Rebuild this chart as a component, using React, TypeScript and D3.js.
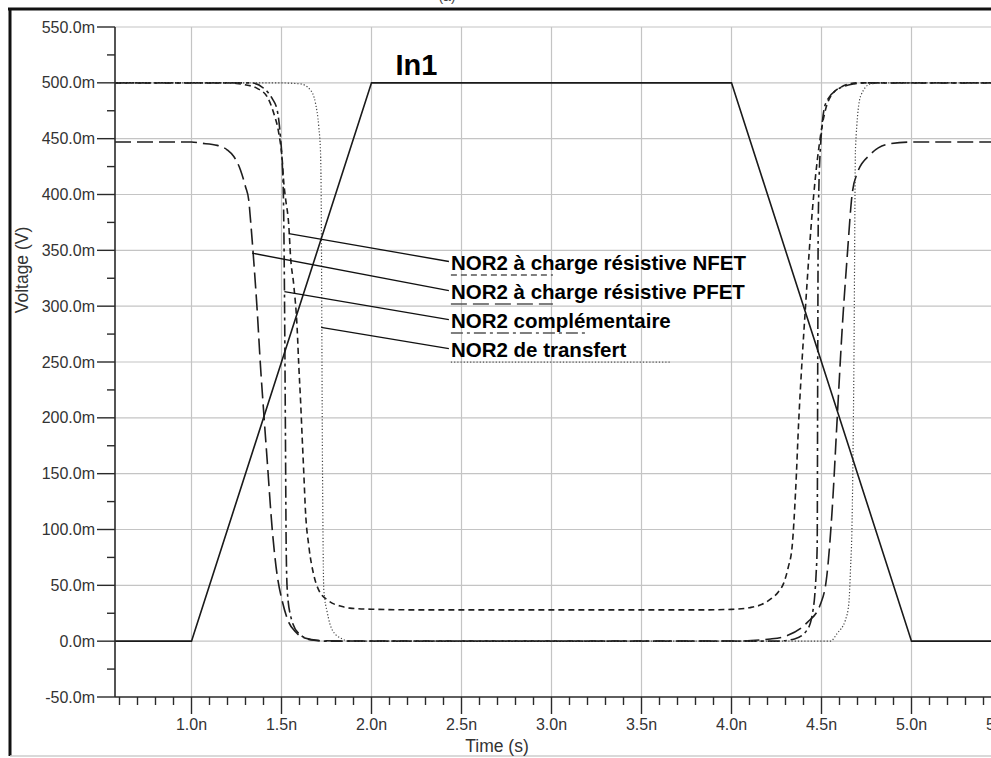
import React from 'react';
import * as d3 from 'd3';

// ---- Axis ticks ----
const Y_TICKS = [-50, 0, 50, 100, 150, 200, 250, 300, 350, 400, 450, 500, 550]; // mV
const X_TICKS = [1.0, 1.5, 2.0, 2.5, 3.0, 3.5, 4.0, 4.5, 5.0, 5.5]; // ns

// ---- Series (time in ns, voltage in mV) ----
const IN1_T = [0.575, 1.0, 2.0, 4.0, 5.0, 5.65];
const IN1_V = [0, 0, 500, 500, 0, 0];

const NFET_T = [0.575, 1.2, 1.25, 1.29, 1.365, 1.42, 1.457, 1.485, 1.504, 1.513, 1.522, 1.541, 1.55, 1.568, 1.587, 1.596, 1.606, 1.615, 1.624, 1.633, 1.652, 1.68, 1.707, 1.763, 1.837, 1.88, 2.0, 2.3, 3.8, 4.0, 4.1, 4.17, 4.22, 4.26, 4.29, 4.315, 4.337, 4.356, 4.374, 4.393, 4.411, 4.43, 4.457, 4.494, 4.54, 4.606, 4.698, 5.65];
const NFET_V = [500, 500, 499.5, 498.5, 495, 487.6, 472.7, 454.8, 431, 410, 397, 371, 345, 319, 280, 247, 215, 182, 150, 117, 85, 58.8, 45.7, 36, 31, 29.6, 28.6, 28, 28, 28.5, 30, 33, 38, 44, 52, 66, 85, 134, 199, 254, 299, 345, 400, 452, 484.5, 496, 500, 500];

const PFET_T = [0.575, 1.0, 1.05, 1.143, 1.198, 1.235, 1.272, 1.3, 1.318, 1.328, 1.346, 1.365, 1.383, 1.402, 1.42, 1.448, 1.476, 1.504, 1.541, 1.58, 1.615, 1.726, 2.0, 4.0, 4.217, 4.31, 4.42, 4.494, 4.53, 4.559, 4.587, 4.615, 4.643, 4.67, 4.698, 4.772, 4.883, 5.0, 5.65];
const PFET_V = [447, 447, 446, 444, 440, 434, 422, 407, 395, 377, 340, 296, 247, 203, 163, 101, 59, 36, 16.6, 8, 3.6, 0.5, 0, 0, 2, 5, 16.6, 33, 59, 117, 199, 280, 345, 400, 419, 436, 445.5, 447, 447];

const COMP_T = [0.575, 1.33, 1.402, 1.448, 1.476, 1.494, 1.505, 1.511, 1.515, 1.518, 1.522, 1.526, 1.532, 1.55, 1.596, 1.67, 1.75, 4.25, 4.35, 4.42, 4.45, 4.462, 4.47, 4.476, 4.479, 4.482, 4.494, 4.522, 4.587, 4.68, 4.75, 5.65];
const COMP_V = [500, 500, 495, 486, 475.6, 451.7, 425, 395, 340, 280, 182, 85, 45.7, 23, 6.8, 1, 0, 0, 2, 10, 25, 40, 60, 85, 247, 377, 442, 481, 494, 499, 500, 500];

const TRANS_T = [0.575, 1.476, 1.606, 1.661, 1.689, 1.707, 1.717, 1.72, 1.728, 1.735, 1.754, 1.782, 1.837, 1.88, 4.55, 4.587, 4.633, 4.652, 4.661, 4.67, 4.68, 4.689, 4.717, 4.772, 4.85, 5.65];
const TRANS_V = [500, 500, 499, 493.5, 481.6, 460.7, 437, 407, 150, 45.7, 26, 10, 2, 0, 0, 7, 19, 34, 64, 108, 247, 442, 488, 499, 500, 500];

// ---- Annotations ----
const LABELS = ['NOR2 à charge résistive NFET', 'NOR2 à charge résistive PFET', 'NOR2 complémentaire', 'NOR2 de transfert'];
const LEADER_T = [1.541, 1.337, 1.516, 1.72];
const LEADER_V = [365, 347.5, 313, 281];
const LABEL_T = 2.43;
const LABEL_V = [340, 314, 288, 262];
const IN1_LABEL = 'In1';
const IN1_LABEL_T = 2.133;
const IN1_LABEL_V = 507;

const STYLES = [
  { dash: '6,4', width: 1.6, color: '#1e1e1e', sample: 102 },
  { dash: '16,6', width: 1.6, color: '#1e1e1e', sample: 102 },
  { dash: '12,4,3,4', width: 1.6, color: '#1e1e1e', sample: 137 },
  { dash: '1.2,2', width: 1.2, color: '#444', sample: 220 },
];

export default function App() {
  const W = 991, H = 758;
  const x = d3.scaleLinear().domain([0.575, 5.65]).range([115, 115 + 5.075 * 180]);
  const y = d3.scaleLinear().domain([-50, 550]).range([697, 27]);
  const smooth = d3.line<[number, number]>().x(d => x(d[0])).y(d => y(d[1])).curve(d3.curveMonotoneX);
  const straight = d3.line<[number, number]>().x(d => x(d[0])).y(d => y(d[1])).curve(d3.curveLinear);
  const pts = (t: number[], v: number[]) => t.map((tt, i) => [tt, v[i]] as [number, number]);
  const mk = (t: number[], v: number[]) => smooth(pts(t, v)) || '';

  const series = [
    { d: mk(NFET_T, NFET_V), s: STYLES[0] },
    { d: mk(PFET_T, PFET_V), s: STYLES[1] },
    { d: mk(COMP_T, COMP_V), s: STYLES[2] },
    { d: mk(TRANS_T, TRANS_V), s: STYLES[3] },
  ];

  const xMinor = d3.range(6, 57).map(i => i / 10).filter(v => Math.round(v * 10) % 5 !== 0);
  const yMinor = d3.range(-25, 550, 50);
  const font = '"Liberation Sans", Arial, sans-serif';
  const left = 115, top = y(550), bottom = y(-50);

  return (
    <div style={{ position: 'absolute', left: 0, top: 0 }}>
      <svg width={W} height={H} style={{ display: 'block', background: '#fff' }}>
        <defs>
          <clipPath id="plot">
            <rect x={left} y={top - 2} width={W - left} height={bottom - top + 2} />
          </clipPath>
        </defs>
        {/* frame */}
        <text x={447} y={1} fontSize={14} fontFamily={font} textAnchor="middle" fill="#444">(a)</text>
        <line x1={8} x2={W} y1={9} y2={9} stroke="#111" strokeWidth={3} />
        <line x1={10} x2={10} y1={8} y2={756} stroke="#111" strokeWidth={3} />
        <line x1={10} x2={W} y1={756} y2={756} stroke="#ccc" strokeWidth={1.5} />

        {/* grid */}
        {X_TICKS.map(t => (
          <line key={'gx' + t} x1={x(t)} x2={x(t)} y1={top} y2={bottom} stroke="#c4c4c4" strokeWidth={1.2} />
        ))}
        {Y_TICKS.filter(v => v > -50).map(v => (
          <line key={'gy' + v} x1={left} x2={W} y1={y(v)} y2={y(v)} stroke="#c4c4c4" strokeWidth={1.2} />
        ))}

        {/* curves */}
        <g clipPath="url(#plot)" fill="none">
          {series.map((sr, i) => (
            <path key={i} d={sr.d} stroke={sr.s.color} strokeWidth={sr.s.width} strokeDasharray={sr.s.dash} />
          ))}
          <path d={straight(pts(IN1_T, IN1_V)) || ''} stroke="#1a1a1a" strokeWidth={1.6} />
        </g>

        {/* axes */}
        <line x1={left} x2={left} y1={top} y2={bottom} stroke="#2a2a2a" strokeWidth={1.6} />
        <line x1={left} x2={W} y1={bottom} y2={bottom} stroke="#2a2a2a" strokeWidth={1.6} />
        {Y_TICKS.map(v => (
          <g key={'yt' + v}>
            <line x1={left - 18} x2={left} y1={y(v)} y2={y(v)} stroke="#2a2a2a" strokeWidth={1.4} />
            <text x={95} y={y(v) + 5.5} textAnchor="end" fontSize={16} fontFamily={font} fill="#333">
              {v.toFixed(1) + 'm'}
            </text>
          </g>
        ))}
        {yMinor.map(v => (
          <line key={'ym' + v} x1={left - 8} x2={left} y1={y(v)} y2={y(v)} stroke="#2a2a2a" strokeWidth={1.4} />
        ))}
        {X_TICKS.map(t => (
          <g key={'xt' + t}>
            <line x1={x(t)} x2={x(t)} y1={bottom} y2={bottom + 17} stroke="#2a2a2a" strokeWidth={1.4} />
            <text x={x(t)} y={730} textAnchor="middle" fontSize={16} fontFamily={font} fill="#333">
              {t.toFixed(1) + 'n'}
            </text>
          </g>
        ))}
        {xMinor.map(t => (
          <line key={'xm' + t} x1={x(t)} x2={x(t)} y1={bottom} y2={bottom + 8} stroke="#2a2a2a" strokeWidth={1.4} />
        ))}

        {/* axis titles */}
        <text x={497} y={752} textAnchor="middle" fontSize={17.5} fontFamily={font} fill="#333">Time (s)</text>
        <text transform="translate(28,270) rotate(-90)" textAnchor="middle" fontSize={17.5} fontFamily={font} fill="#333">Voltage (V)</text>

        {/* In1 label */}
        <text x={x(IN1_LABEL_T)} y={y(IN1_LABEL_V)} fontSize={29} fontWeight="bold" fontFamily={font} fill="#000">{IN1_LABEL}</text>

        {/* annotations */}
        {LABELS.map((lab, i) => {
          const lx = x(LABEL_T);
          const ly = y(LABEL_V[i]);
          const s = STYLES[i];
          return (
            <g key={'lab' + i}>
              <line x1={x(LEADER_T[i])} y1={y(LEADER_V[i])} x2={lx} y2={ly} stroke="#111" strokeWidth={1.3} />
              <text x={lx + 2} y={ly + 8.5} fontSize={20.5} fontWeight="bold" fontFamily={font} fill="#000">{lab}</text>
              <line x1={lx + 2} x2={lx + 2 + s.sample} y1={ly + 13.5} y2={ly + 13.5} stroke="#555" strokeWidth={s.width} strokeDasharray={s.dash} />
            </g>
          );
        })}
      </svg>
    </div>
  );
}
